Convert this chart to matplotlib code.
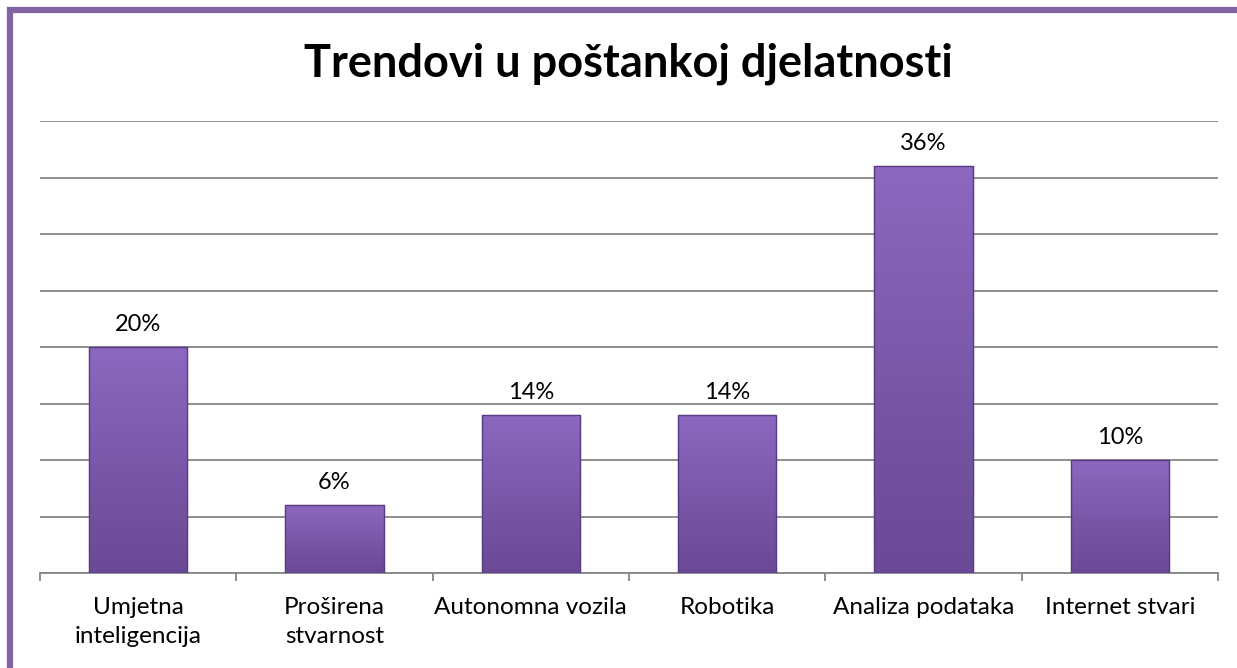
import numpy as np
import matplotlib
matplotlib.use('Agg')
import matplotlib.pyplot as plt
from matplotlib.patches import Rectangle
from matplotlib.colors import LinearSegmentedColormap

# Data
##############################################################################
categories = ['Umjetna\ninteligencija', 'Proširena\nstvarnost', 'Autonomna vozila',
              'Robotika', 'Analiza podataka', 'Internet stvari']
values = [20, 6, 14, 14, 36, 10]
value_labels = ['20%', '6%', '14%', '14%', '36%', '10%']
title = 'Trendovi u poštankoj djelatnosti'

# Plot
##############################################################################
plt.rcParams['font.family'] = ['Lato', 'DejaVu Sans']

W, H = 1237, 668
fig = plt.figure(figsize=(W / 100, H / 100), dpi=100)
ax = fig.add_axes([40 / W, 95 / H, (1218 - 40) / W, (573 - 121) / H])

x = np.arange(len(categories))
bars = ax.bar(x, values, width=0.5, color='#7553A3', edgecolor='#5E3F8A', linewidth=0.8, zorder=3)

# vertical gradient inside each bar (light on top, darker at the base)
grad_cmap = LinearSegmentedColormap.from_list('purp', ['#8C68C0', '#7A58AA', '#6A4996'])
grad = np.linspace(0, 1, 256).reshape(-1, 1)
for b in bars:
    x0, w, h = b.get_x(), b.get_width(), b.get_height()
    im = ax.imshow(grad, cmap=grad_cmap, aspect='auto', extent=[x0, x0 + w, 0, h],
                   origin='upper', zorder=3.5)
    im.set_clip_path(b)
    ax.add_patch(Rectangle((x0, 0), w, h, fill=False, edgecolor='#5A3C85', linewidth=1.0, zorder=4))

for xi, v, lab in zip(x, values, value_labels):
    ax.text(xi, v + 2.0, lab, ha='center', va='center', fontsize=17, color='black', zorder=5)

ax.set_xlim(-0.5, len(categories) - 0.5)
ax.set_ylim(0, 40)
ax.set_yticks(np.arange(0, 41, 5))
ax.yaxis.grid(True, color='#868686', linewidth=1.3, zorder=0)
ax.set_yticklabels([])
ax.tick_params(axis='y', length=0)

ax.set_xticks(x)
ax.set_xticklabels(categories, fontsize=17.5, linespacing=1.5)
ax.set_xticks(np.arange(-0.5, len(categories)), minor=True)
ax.tick_params(axis='x', which='major', length=0, pad=17)
ax.tick_params(axis='x', which='minor', length=6, width=1.3, color='#868686', direction='out')

for s in ['top', 'right', 'left']:
    ax.spines[s].set_visible(False)
ax.spines['bottom'].set_color('#868686')
ax.spines['bottom'].set_linewidth(1.3)

fig.text(628 / W, 1 - 64 / H, title, ha='center', va='center', fontsize=32.5, fontweight='bold')

# purple frame (right and bottom edges run off the image)
fig.patches.append(Rectangle((9.5 / W, -0.05), 1.2, 1 - 9.5 / H + 0.05, transform=fig.transFigure,
                             fill=False, edgecolor='#8064A2', linewidth=4.5, zorder=10))

plt.savefig('out.png', dpi=100)
